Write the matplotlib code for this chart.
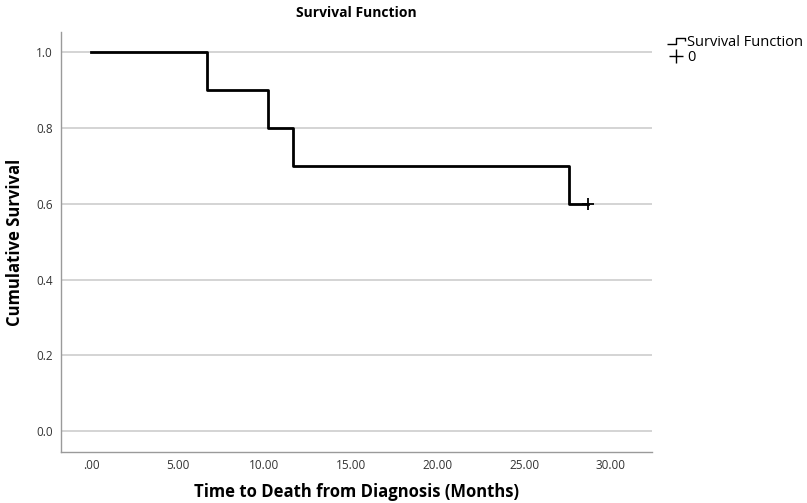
import matplotlib.pyplot as plt
from matplotlib.lines import Line2D
from matplotlib.path import Path

# Kaplan-Meier steps
event_times = [0.0, 6.7, 10.2, 11.65, 27.6]
survival = [1.0, 0.9, 0.8, 0.7, 0.6]
censor_times = [28.7]
censor_surv = [0.6]
end_time = 28.7

x_ticks = [0, 5, 10, 15, 20, 25, 30]
x_labels = [".00", "5.00", "10.00", "15.00", "20.00", "25.00", "30.00"]
y_ticks = [0.0, 0.2, 0.4, 0.6, 0.8, 1.0]

plt.rcParams["font.family"] = ["Open Sans", "DejaVu Sans"]

fig = plt.figure(figsize=(8.07, 5.03), dpi=100)
ax = fig.add_axes([0.0756, 0.1014, 0.7323, 0.835])

# horizontal grid
for y in y_ticks:
    ax.axhline(y, color="#d4d4d4", linewidth=1.4, zorder=0)

ax.step(event_times + [end_time], survival + [survival[-1]], where="post",
        color="black", linewidth=2.0, zorder=3)
ax.plot(censor_times, censor_surv, marker="+", color="black", markersize=9,
        markeredgewidth=1.3, linestyle="none", zorder=4)

ax.set_xlim(-1.73, 32.37)
ax.set_ylim(-0.055, 1.053)
ax.set_xticks(x_ticks)
ax.set_xticklabels(x_labels)
ax.set_yticks(y_ticks)
ax.set_yticklabels([f"{v:.1f}" for v in y_ticks])
ax.tick_params(length=0, labelsize=8.5, colors="#333333")
ax.tick_params(axis="x", pad=5)
ax.tick_params(axis="y", pad=6)

for side in ["top", "right"]:
    ax.spines[side].set_visible(False)
for side in ["left", "bottom"]:
    ax.spines[side].set_color("#9a9a9a")
    ax.spines[side].set_linewidth(1.0)

fig.text(0.4418, 0.974, "Survival Function", fontsize=10, fontweight="bold",
         ha="center", va="center")
fig.text(0.4418, 0.021, "Time to Death from Diagnosis (Months)", fontsize=12,
         fontweight="bold", ha="center", va="center")
fig.text(0.019, 0.519, "Cumulative Survival", fontsize=12, fontweight="bold",
         ha="center", va="center", rotation=90)

# legend with step-shaped icon
step_icon = Path([(-1.0, -0.35), (0.0, -0.35), (0.0, 0.35), (1.0, 0.35), (1.0, 0.05)],
                 [Path.MOVETO, Path.LINETO, Path.LINETO, Path.LINETO, Path.LINETO])
handles = [
    Line2D([], [], linestyle="none", marker=step_icon, markersize=13,
           markerfacecolor="none", markeredgecolor="black", markeredgewidth=1.0),
    Line2D([], [], linestyle="none", marker="+", markersize=10,
           markeredgecolor="black", markeredgewidth=1.0),
]
fig.legend(handles, ["Survival Function", "0"], loc="upper left",
           bbox_to_anchor=(0.824, 0.937), frameon=False, fontsize=10.5,
           handlelength=1.1, handletextpad=0.2, labelspacing=0.0,
           borderpad=0.2, borderaxespad=0.0)

fig.savefig("out.png", dpi=100)
